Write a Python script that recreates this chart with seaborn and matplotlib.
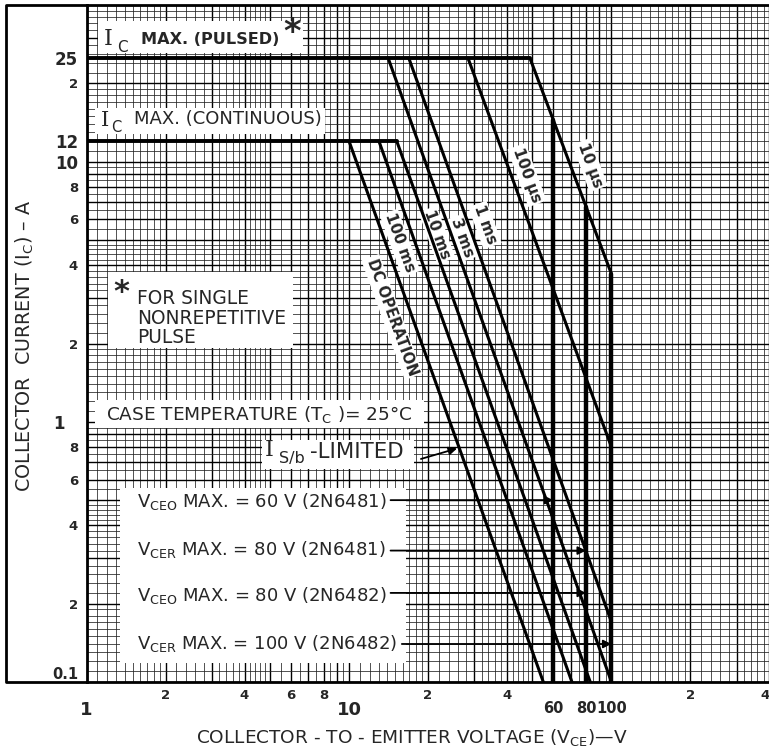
import matplotlib

matplotlib.use("Agg")

import matplotlib.pyplot as plt
import numpy as np
import pandas as pd
import seaborn as sns
from matplotlib.patches import Rectangle

sns.set_style("white")
plt.rcParams["font.family"] = ["DejaVu Sans"]
plt.rcParams["mathtext.default"] = "regular"

# forward-bias safe operating area: each curve leaves its Ic max line at a knee
curve_names = ["DC", "100 ms", "10 ms", "3 ms", "1 ms", "100 µs", "10 µs"]
knee_v = [10, 13, 15.2, 14.1, 16.9, 28.4, 48.9]
knee_i = [12, 12, 12, 25, 25, 25, 25]
end_v = [55, 70.7, 83, 100, 100, 100, 100]
end_i = [0.1, 0.1, 0.1, 0.1, 0.17, 0.8, 3.7]

# Ic max lines (A)
ic_names = ["pulsed", "continuous"]
ic_level = [25, 12]
ic_start_v = [1, 1]
ic_stop_v = [48.9, 15.2]

# Vce max limits (V) drawn from the 10 us line down
vlimit_v = [60, 80, 100]
vlimit_top_i = [14.5, 6.7, 3.7]
vlimit_bottom_i = [0.1, 0.1, 0.1]

# labels pointing at the voltage limits
vmax_labels = [
    "V$_{CEO}$ MAX. = 60 V (2N6481)",
    "V$_{CER}$ MAX. = 80 V (2N6481)",
    "V$_{CEO}$ MAX. = 80 V (2N6482)",
    "V$_{CER}$ MAX. = 100 V (2N6482)",
]
vmax_label_i = [0.5, 0.32, 0.22, 0.14]
vmax_start_v = [14.4, 14.4, 14.4, 15.9]
vmax_target_v = [60, 80, 80, 100]

x_major = [1, 10, 60, 80, 100]
x_major_labels = ["1", "10", "60", "80", "100"]
x_minor = [2, 4, 6, 8, 20, 40, 200, 400]
x_minor_labels = ["2", "4", "6", "8", "2", "4", "2", "4"]
y_minor = [25, 20, 12, 10, 8, 6, 4, 2, 0.8, 0.6, 0.4, 0.2, 0.1]
y_minor_labels = ["25", "2", "12", "10", "8", "6", "4", "2", "8", "6", "4", "2", "0.1"]

W, H = 769, 749
AX_L, AX_R, AX_T, AX_B = 86.5, 769.5, 5, 682

fig = plt.figure(figsize=(W / 100, H / 100), dpi=100)
ax = fig.add_axes([AX_L / W, 1 - AX_B / H, (AX_R - AX_L) / W, (AX_B - AX_T) / H])
ax.set_xscale("log")
ax.set_yscale("log")
ax.set_xlim(1, 400)
ax.set_ylim(0.1, 40)


def at(px, py):
    """pixel position in the picture -> axes fraction"""
    return (px - AX_L) / (AX_R - AX_L), (AX_B - py) / (AX_B - AX_T)


def paper(lo, hi):
    fine, bold = [], []
    for e in range(lo, hi):
        b = 10.0 ** e
        fine += list(b * np.arange(1.1, 2.0, 0.1)) + list(b * np.arange(2.2, 5.0, 0.2)) + list(b * np.arange(5.5, 10, 0.5))
        bold += list(b * np.arange(1, 10))
    return fine, bold


# graph paper
gx_fine, gx_bold = paper(0, 3)
gy_fine, gy_bold = paper(-1, 2)
xt = ax.get_xaxis_transform()
yt = ax.get_yaxis_transform()
ax.vlines(gx_fine, 0, 1, transform=xt, color="#222222", lw=0.55, zorder=1)
ax.vlines(gx_bold, 0, 1, transform=xt, color="black", lw=1.0, zorder=1)
ax.hlines(gy_fine, 0, 1, transform=yt, color="#222222", lw=0.55, zorder=1)
ax.hlines(gy_bold, 0, 1, transform=yt, color="black", lw=1.0, zorder=1)

# white label areas
for x0, y0, x1, y1 in [(98, 21, 303, 53), (95, 108, 325, 134), (108, 272, 293, 348),
                       (95, 400, 424, 428), (262, 440, 414, 469), (120, 488, 406, 663)]:
    fx0, fy0 = at(x0, y1)
    fx1, fy1 = at(x1, y0)
    ax.add_patch(Rectangle((fx0, fy0), fx1 - fx0, fy1 - fy0, transform=ax.transAxes,
                           facecolor="white", edgecolor="none", zorder=2))

# curves
slant = pd.DataFrame({
    "curve": curve_names * 2,
    "V": knee_v + end_v,
    "I": knee_i + end_i,
})
flat = pd.DataFrame({
    "curve": ic_names * 2,
    "V": ic_start_v + ic_stop_v,
    "I": ic_level + ic_level,
})
vert = pd.DataFrame({
    "curve": [str(v) for v in vlimit_v] * 2,
    "V": vlimit_v + vlimit_v,
    "I": vlimit_top_i + vlimit_bottom_i,
})
for frame, width in [(slant, 2.2), (flat, 2.8), (vert, 3.2)]:
    sns.lineplot(data=frame, x="V", y="I", units="curve", estimator=None, sort=False,
                 color="black", linewidth=width, ax=ax, legend=False, zorder=4)
ax.set_xlabel("")
ax.set_ylabel("")

# curve labels along the lines
for text, (px, py), size in [("DC OPERATION", (392, 317), 10.5), ("100 ms", (400, 243), 11),
                             ("10 ms", (437, 235), 11), ("3 ms", (462, 238), 11),
                             ("1 ms", (485, 225), 11), ("100 µs", (527, 175), 11),
                             ("10 µs", (590, 165), 11)]:
    ax.text(*at(px, py), text, transform=ax.transAxes, rotation=-70, rotation_mode="anchor",
            ha="center", va="center", fontsize=size, fontweight="bold", zorder=3,
            bbox=dict(facecolor="white", edgecolor="none", pad=1.5))


def txt(px, py, s, size=13.4, **kw):
    kw.setdefault("ha", "left")
    ax.text(*at(px, py), s, transform=ax.transAxes, fontsize=size, va="center", zorder=5, **kw)


txt(104, 39, "I", 16, family="DejaVu Serif")
txt(117, 47, "C", 11)
txt(141, 39, "MAX. (PULSED)", 11.6, fontweight="bold")
txt(283, 32, "*", 24, fontweight="bold")

txt(101, 120, "I", 15, family="DejaVu Serif")
txt(111, 127, "C", 10.5)
txt(134, 119, "MAX. (CONTINUOUS)", 13)

txt(113, 292, "*", 22, fontweight="bold")
txt(137, 298, "FOR SINGLE")
txt(137, 318, "NONREPETITIVE")
txt(137, 337, "PULSE")

txt(106, 414, "CASE TEMPERATURE (T$_{C}$ )= 25°C", 13.3)

txt(265, 450, "I", 16, family="DejaVu Serif")
txt(279, 458, "S/b", 11.5)
txt(310, 452, "-LIMITED", 15.3)
ax.annotate("", xy=(25.8, 0.79), xytext=(18.8, 0.72),
            arrowprops=dict(arrowstyle="-|>", lw=1.3, color="black", mutation_scale=12,
                            shrinkA=0, shrinkB=0), zorder=5)

for label, cur, x0, x1, py in zip(vmax_labels, vmax_label_i, vmax_start_v, vmax_target_v,
                                  [502, 550, 596, 644]):
    txt(137, py, label, 13)
    ax.annotate("", xy=(x1, cur), xytext=(x0, cur),
                arrowprops=dict(arrowstyle="-|>", lw=1.3, color="black", mutation_scale=12,
                                shrinkA=0, shrinkB=0), zorder=5)

# ticks
ax.set_xticks(x_major, x_major_labels)
ax.set_xticks(x_minor, x_minor_labels, minor=True)
ax.set_yticks([1], ["1"])
ax.set_yticks(y_minor, y_minor_labels, minor=True)
ax.tick_params(axis="x", which="major", direction="out", length=14, width=2.5, pad=0, labelsize=10.5)
ax.tick_params(axis="x", which="minor", length=0, pad=5, labelsize=9.5)
ax.tick_params(axis="y", which="major", direction="out", length=12, width=1.5, pad=4, labelsize=12)
ax.tick_params(axis="y", which="minor", length=0, pad=6, labelsize=9.5)
for lab in ax.get_xticklabels():
    if lab.get_text() in ("1", "10"):
        lab.set_fontsize(13)
for lab in ax.get_xticklabels(which="both"):
    lab.set_fontweight("bold")
ax.get_xticklabels(minor=True)[-1].set_horizontalalignment("right")
for lab in ax.get_yticklabels(which="both"):
    lab.set_fontweight("bold")
for lab in ax.get_yticklabels(minor=True):
    if lab.get_text() in ("25", "12", "10"):
        lab.set_fontsize(12)
    if lab.get_text() == "0.1":
        lab.set_verticalalignment("bottom")
        lab.set_fontsize(10.5)
ax.grid(False)

for side in ["left", "bottom", "top"]:
    ax.spines[side].set_linewidth(2)
    ax.spines[side].set_color("black")
ax.spines["right"].set_visible(False)

# outer frame round the y label
fx_out, _ = at(6, 0)
ax.plot([0, fx_out, fx_out, 0], [0, 0, 1, 1], transform=ax.transAxes, color="black",
        lw=2, clip_on=False, zorder=5)

fig.text(412 / W, 1 - 737 / H, "COLLECTOR - TO - EMITTER VOLTAGE (V$_{CE}$)—V",
         ha="center", va="center", fontsize=13.3)
fig.text(25 / W, 1 - 346 / H, "COLLECTOR  CURRENT (I$_{C}$) – A", rotation=90,
         ha="center", va="center", fontsize=13.8)

fig.savefig("out.png", dpi=100)
